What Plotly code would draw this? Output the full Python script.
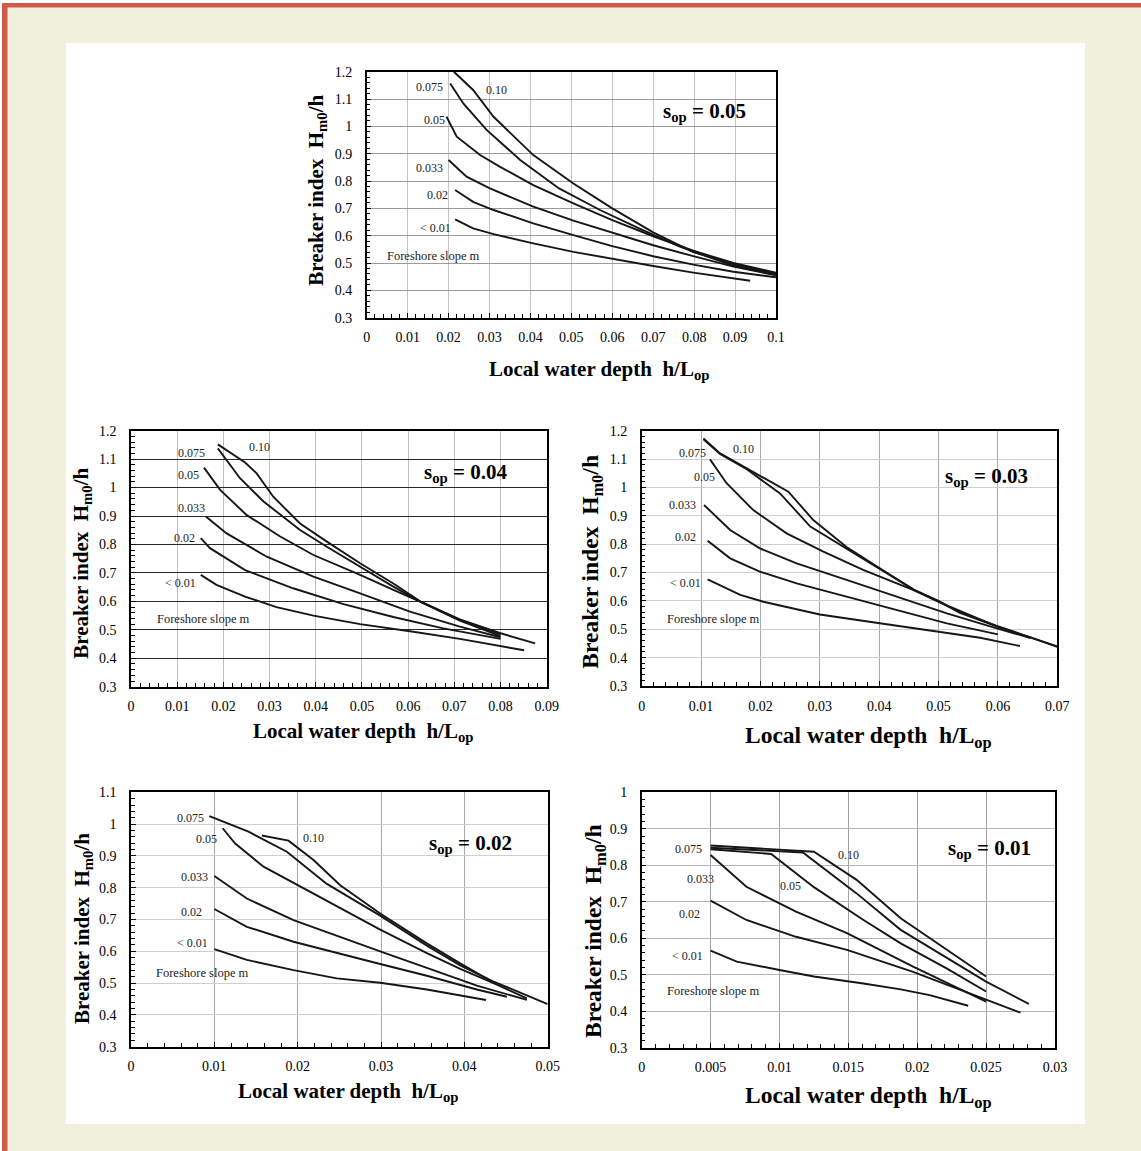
import plotly.graph_objects as go

# page is 1141 x 1151; the browser keeps its default 8px body margin,
# so the figure is 16px smaller and everything is placed relative to (8, 8).
PAGE_W, PAGE_H = 1141, 1151
OX, OY = 8, 8
W, H = PAGE_W - 2 * OX, PAGE_H - 2 * OY
FONT = "Liberation Serif, Times New Roman, serif"

# ---------------- data ----------------
slope_labels = ["0.10", "0.075", "0.05", "0.033", "0.02", "< 0.01"]

# s_op = 0.05
s005_m010_x = [0.0213, 0.026, 0.031, 0.0407, 0.0505, 0.060, 0.070, 0.0798, 0.0896, 0.100]
s005_m010_y = [1.200, 1.133, 1.035, 0.895, 0.791, 0.700, 0.612, 0.540, 0.495, 0.462]
s005_m0075_x = [0.0204, 0.0236, 0.0293, 0.0375, 0.047, 0.057, 0.0668, 0.0765, 0.0896, 0.100]
s005_m0075_y = [1.157, 1.084, 0.987, 0.877, 0.773, 0.694, 0.625, 0.560, 0.490, 0.458]
s005_m005_x = [0.0195, 0.022, 0.0277, 0.0326, 0.0407, 0.0505, 0.060, 0.070, 0.0798, 0.0896, 0.100]
s005_m005_y = [1.035, 0.962, 0.895, 0.852, 0.785, 0.718, 0.657, 0.598, 0.545, 0.500, 0.465]
s005_m0033_x = [0.020, 0.0244, 0.0301, 0.0407, 0.0505, 0.060, 0.070, 0.0798, 0.0896, 0.100]
s005_m0033_y = [0.877, 0.816, 0.773, 0.706, 0.655, 0.610, 0.565, 0.525, 0.487, 0.455]
s005_m002_x = [0.0216, 0.026, 0.031, 0.0407, 0.0505, 0.060, 0.070, 0.0798, 0.0896, 0.100]
s005_m002_y = [0.767, 0.724, 0.694, 0.645, 0.602, 0.562, 0.525, 0.494, 0.468, 0.448]
s005_m001_x = [0.0216, 0.026, 0.031, 0.0407, 0.0505, 0.060, 0.070, 0.0798, 0.0937]
s005_m001_y = [0.660, 0.627, 0.606, 0.572, 0.541, 0.515, 0.489, 0.465, 0.435]

# s_op = 0.04
s004_m010_x = [0.0188, 0.0247, 0.0272, 0.0308, 0.0366, 0.0424, 0.0496, 0.0568, 0.0626, 0.0712, 0.080, 0.0875]
s004_m010_y = [1.152, 1.088, 1.050, 0.968, 0.874, 0.810, 0.734, 0.663, 0.600, 0.537, 0.488, 0.452]
s004_m0075_x = [0.0188, 0.0207, 0.0236, 0.0287, 0.0366, 0.0424, 0.0496, 0.0568, 0.0626, 0.0712, 0.080]
s004_m0075_y = [1.138, 1.097, 1.033, 0.951, 0.851, 0.792, 0.722, 0.652, 0.599, 0.534, 0.484]
s004_m005_x = [0.0158, 0.0193, 0.025, 0.0323, 0.0395, 0.0496, 0.0568, 0.0626, 0.0712, 0.080]
s004_m005_y = [1.070, 0.992, 0.904, 0.828, 0.763, 0.693, 0.640, 0.599, 0.532, 0.478]
s004_m0033_x = [0.0162, 0.0207, 0.0294, 0.0395, 0.0496, 0.0604, 0.0712, 0.080]
s004_m0033_y = [0.898, 0.839, 0.757, 0.687, 0.628, 0.564, 0.511, 0.474]
s004_m002_x = [0.0151, 0.0171, 0.0247, 0.0351, 0.046, 0.0568, 0.0676, 0.080]
s004_m002_y = [0.822, 0.787, 0.710, 0.646, 0.590, 0.545, 0.505, 0.468]
s004_m001_x = [0.0151, 0.0185, 0.0247, 0.0315, 0.0395, 0.0496, 0.0604, 0.0712, 0.0851]
s004_m001_y = [0.693, 0.658, 0.617, 0.580, 0.550, 0.520, 0.495, 0.468, 0.428]

# s_op = 0.03
s003_m010_x = [0.0104, 0.0132, 0.0177, 0.0247, 0.0289, 0.0345, 0.0401, 0.0458, 0.0536, 0.0598, 0.0654, 0.070]
s003_m010_y = [1.173, 1.120, 1.067, 0.985, 0.885, 0.790, 0.715, 0.640, 0.560, 0.512, 0.472, 0.438]
s003_m0075_x = [0.0104, 0.0132, 0.0177, 0.0233, 0.0284, 0.0345, 0.0401, 0.0458, 0.050, 0.0536, 0.0598, 0.0654]
s003_m0075_y = [1.170, 1.118, 1.064, 0.979, 0.862, 0.785, 0.715, 0.640, 0.600, 0.558, 0.510, 0.470]
s003_m005_x = [0.0115, 0.0143, 0.0188, 0.0244, 0.0306, 0.0373, 0.0458, 0.050, 0.0598, 0.070]
s003_m005_y = [1.099, 1.015, 0.920, 0.838, 0.774, 0.709, 0.638, 0.597, 0.510, 0.440]
s003_m0033_x = [0.0105, 0.0149, 0.0199, 0.0261, 0.0345, 0.043, 0.0514, 0.0598, 0.0654]
s003_m0033_y = [0.938, 0.850, 0.785, 0.732, 0.674, 0.615, 0.556, 0.503, 0.470]
s003_m002_x = [0.0111, 0.0149, 0.0199, 0.0261, 0.0345, 0.043, 0.0514, 0.060]
s003_m002_y = [0.812, 0.750, 0.703, 0.662, 0.615, 0.568, 0.521, 0.482]
s003_m001_x = [0.0111, 0.0166, 0.0205, 0.030, 0.0401, 0.050, 0.057, 0.0637]
s003_m001_y = [0.676, 0.621, 0.597, 0.552, 0.521, 0.492, 0.470, 0.441]

# s_op = 0.02
s002_m010_x = [0.0157, 0.0189, 0.0219, 0.0251, 0.0299, 0.0355, 0.0395, 0.0438]
s002_m010_y = [0.964, 0.948, 0.887, 0.808, 0.719, 0.625, 0.562, 0.497]
s002_m0075_x = [0.0094, 0.0141, 0.0187, 0.0235, 0.0299, 0.0355, 0.0395, 0.0435, 0.050]
s002_m0075_y = [1.025, 0.976, 0.913, 0.812, 0.712, 0.618, 0.556, 0.505, 0.434]
s002_m005_x = [0.011, 0.0125, 0.0159, 0.0215, 0.0251, 0.0299, 0.0355, 0.0395, 0.0435, 0.0475]
s002_m005_y = [0.987, 0.939, 0.866, 0.787, 0.735, 0.668, 0.594, 0.545, 0.500, 0.452]
s002_m0033_x = [0.010, 0.0139, 0.0195, 0.0247, 0.0299, 0.0355, 0.0415, 0.0475]
s002_m0033_y = [0.837, 0.766, 0.698, 0.648, 0.600, 0.548, 0.492, 0.447]
s002_m002_x = [0.010, 0.0139, 0.0195, 0.0247, 0.0299, 0.0355, 0.0415, 0.0451]
s002_m002_y = [0.733, 0.677, 0.630, 0.594, 0.560, 0.523, 0.480, 0.457]
s002_m001_x = [0.010, 0.0139, 0.0195, 0.0247, 0.0299, 0.0355, 0.0426]
s002_m001_y = [0.607, 0.573, 0.541, 0.515, 0.501, 0.480, 0.447]

# s_op = 0.01
s001_m010_x = [0.005, 0.0125, 0.0156, 0.0188, 0.025]
s001_m010_y = [0.854, 0.837, 0.760, 0.655, 0.495]
s001_m0075_x = [0.005, 0.0117, 0.0156, 0.0188, 0.025, 0.0281]
s001_m0075_y = [0.848, 0.835, 0.723, 0.623, 0.481, 0.420]
s001_m005_x = [0.005, 0.0094, 0.0125, 0.0161, 0.0188, 0.0221, 0.025]
s001_m005_y = [0.844, 0.831, 0.740, 0.650, 0.586, 0.518, 0.454]
s001_m0033_x = [0.005, 0.0076, 0.0112, 0.0149, 0.0197, 0.025]
s001_m0033_y = [0.828, 0.741, 0.673, 0.614, 0.522, 0.426]
s001_m002_x = [0.005, 0.0076, 0.0112, 0.0149, 0.0197, 0.025, 0.0275]
s001_m002_y = [0.703, 0.650, 0.604, 0.568, 0.508, 0.431, 0.396]
s001_m001_x = [0.005, 0.0069, 0.010, 0.0125, 0.0161, 0.0188, 0.0209, 0.0237]
s001_m001_y = [0.566, 0.536, 0.513, 0.495, 0.476, 0.460, 0.444, 0.415]

# ---------------- layout helpers ----------------
def fx(px):
    return (px - OX) / W

def fy(py):
    return 1 - (py - OY) / H

BEIGE = "#F1F0DD"
RED = "#CF5A4A"

panels = [
    dict(sop="0.05", xmax=0.1, xd=0.01, ymax=1.2,
         box=(366.7, 71.7, 776.0, 317.7), hgrid="#9a9a9a", vgrid="#c4c4c4",
         ytitle=(316.7, 190), xtitle=(599, 370), tsize=21,
         curves=[(s005_m010_x, s005_m010_y), (s005_m0075_x, s005_m0075_y), (s005_m005_x, s005_m005_y),
                 (s005_m0033_x, s005_m0033_y), (s005_m002_x, s005_m002_y), (s005_m001_x, s005_m001_y)],
         lab=[(0.0318, 1.133, "center"), (0.0191, 1.145, "right"), (0.0195, 1.023, "right"),
              (0.0191, 0.846, "right"), (0.0204, 0.749, "right"), (0.0212, 0.627, "right")],
         fore=(0.0045, 0.527), sopxy=(0.072, 1.054)),
    dict(sop="0.04", xmax=0.09, xd=0.01, ymax=1.2,
         box=(131.0, 430.7, 546.7, 686.7), hgrid="#2a2a2a", vgrid="#bdbdbd",
         ytitle=(81.7, 563), xtitle=(363, 731.7), tsize=21,
         curves=[(s004_m010_x, s004_m010_y), (s004_m0075_x, s004_m0075_y), (s004_m005_x, s004_m005_y),
                 (s004_m0033_x, s004_m0033_y), (s004_m002_x, s004_m002_y), (s004_m001_x, s004_m001_y)],
         lab=[(0.0279, 1.142, "center"), (0.0164, 1.123, "right"), (0.0151, 1.044, "right"),
              (0.0165, 0.927, "right"), (0.0142, 0.822, "right"), (0.0146, 0.666, "right")],
         fore=(0.0052, 0.538), sopxy=(0.063, 1.05)),
    dict(sop="0.03", xmax=0.07, xd=0.01, ymax=1.2,
         box=(641.7, 430.7, 1057.3, 686.0), hgrid="#cfcfcf", vgrid="#a8a8a8",
         ytitle=(591.7, 562), xtitle=(868, 736.7), tsize=23.5,
         curves=[(s003_m010_x, s003_m010_y), (s003_m0075_x, s003_m0075_y), (s003_m005_x, s003_m005_y),
                 (s003_m0033_x, s003_m0033_y), (s003_m002_x, s003_m002_y), (s003_m001_x, s003_m001_y)],
         lab=[(0.0171, 1.134, "center"), (0.0111, 1.123, "right"), (0.0126, 1.036, "right"),
              (0.0094, 0.938, "right"), (0.0094, 0.824, "right"), (0.0103, 0.662, "right")],
         fore=(0.0039, 0.536), sopxy=(0.0507, 1.038)),
    dict(sop="0.02", xmax=0.05, xd=0.01, ymax=1.1,
         box=(131.0, 792.3, 547.7, 1046.7), hgrid="#cfcfcf", vgrid="#a8a8a8",
         ytitle=(83, 929), xtitle=(348, 1091.7), tsize=21,
         curves=[(s002_m010_x, s002_m010_y), (s002_m0075_x, s002_m0075_y), (s002_m005_x, s002_m005_y),
                 (s002_m0033_x, s002_m0033_y), (s002_m002_x, s002_m002_y), (s002_m001_x, s002_m001_y)],
         lab=[(0.0219, 0.955, "center"), (0.009, 1.018, "right"), (0.0105, 0.952, "right"),
              (0.0095, 0.835, "right"), (0.0088, 0.725, "right"), (0.0095, 0.627, "right")],
         fore=(0.0028, 0.531), sopxy=(0.0355, 0.939)),
    dict(sop="0.01", xmax=0.03, xd=0.005, ymax=1.0,
         box=(641.7, 792.3, 1055.0, 1047.7), hgrid="#b5b5b5", vgrid="#a0a0a8",
         ytitle=(595, 931), xtitle=(868, 1096.7), tsize=23.5,
         curves=[(s001_m010_x, s001_m010_y), (s001_m0075_x, s001_m0075_y), (s001_m005_x, s001_m005_y),
                 (s001_m0033_x, s001_m0033_y), (s001_m002_x, s001_m002_y), (s001_m001_x, s001_m001_y)],
         lab=[(0.015, 0.828, "center"), (0.0045, 0.844, "right"), (0.0108, 0.743, "center"),
              (0.0054, 0.763, "right"), (0.0044, 0.667, "right"), (0.0046, 0.551, "right")],
         fore=(0.0017, 0.456), sopxy=(0.0221, 0.844)),
]

fig = go.Figure()
annotations = []
layout = dict(
    template="none",
    width=W, height=H, margin=dict(l=0, r=0, t=0, b=0, pad=0, autoexpand=False),
    paper_bgcolor=BEIGE, plot_bgcolor="white", showlegend=False,
    hovermode=False, font=dict(family=FONT, color="black", size=14),
)

for i, p in enumerate(panels):
    n = "" if i == 0 else str(i + 1)
    xa, ya = "x" + n, "y" + n
    x0, y0, x1, y1 = p["box"]
    for cx, cy in p["curves"]:
        fig.add_trace(go.Scatter(x=cx, y=cy, mode="lines", xaxis=xa, yaxis=ya,
                                 line=dict(color="#161616", width=1.9), hoverinfo="skip"))
    common = dict(showline=True, linecolor="black", linewidth=1.5, mirror=True,
                  ticks="inside", ticklen=5, tickcolor="black", tickwidth=1,
                  showgrid=True, zeroline=False, fixedrange=True, automargin=False,
                  tickfont=dict(family=FONT, size=14, color="black"))
    layout["xaxis" + n] = dict(common, domain=[fx(x0), fx(x1)], range=[0, p["xmax"]],
                               tick0=0, dtick=p["xd"], anchor=ya, gridcolor=p["vgrid"], gridwidth=1,
                               ticklabelstandoff=6,
                               minor=dict(dtick=p["xd"] / 5, ticks="inside", ticklen=4,
                                          tickcolor="black", showgrid=False))
    layout["yaxis" + n] = dict(common, domain=[fy(y1), fy(y0)], range=[0.3, p["ymax"]],
                               tick0=0.3, dtick=0.1, anchor=xa, gridcolor=p["hgrid"], gridwidth=1,
                               ticklabelstandoff=10,
                               minor=dict(dtick=0.02, ticks="inside", ticklen=4,
                                          tickcolor="black", showgrid=False))
    for (lx, ly, anc), txt in zip(p["lab"], slope_labels):
        annotations.append(dict(x=lx, y=ly, xref=xa, yref=ya, text=txt.replace("<", "&lt;"),
                                showarrow=False, xanchor=anc, yanchor="middle",
                                font=dict(family=FONT, size=12, color="#222")))
    annotations.append(dict(x=p["fore"][0], y=p["fore"][1], xref=xa, yref=ya,
                            text="Foreshore slope m", showarrow=False, xanchor="left",
                            yanchor="middle", font=dict(family=FONT, size=12.5, color="#222")))
    annotations.append(dict(x=p["sopxy"][0], y=p["sopxy"][1], xref=xa, yref=ya,
                            text="<b>s<sub>op</sub> = " + p["sop"] + "</b>", showarrow=False,
                            xanchor="left", yanchor="middle",
                            font=dict(family=FONT, size=21, color="black")))
    annotations.append(dict(x=fx(p["ytitle"][0]), y=fy(p["ytitle"][1]), xref="paper", yref="paper",
                            text="<b>Breaker index  H<sub>m0</sub>/h</b>", textangle=-90,
                            showarrow=False, xanchor="center", yanchor="middle",
                            font=dict(family=FONT, size=p["tsize"], color="black")))
    annotations.append(dict(x=fx(p["xtitle"][0]), y=fy(p["xtitle"][1]), xref="paper", yref="paper",
                            text="<b>Local water depth  h/L<sub>op</sub></b>",
                            showarrow=False, xanchor="center", yanchor="middle",
                            font=dict(family=FONT, size=p["tsize"], color="black")))

shapes = [
    dict(type="rect", xref="paper", yref="paper", x0=fx(66), x1=fx(1085), y0=fy(1124), y1=fy(43),
         fillcolor="white", line=dict(width=0), layer="below"),
]
layout["annotations"] = annotations
layout["shapes"] = shapes
fig.update_layout(**layout)

# colour the 8px page margin like the reference frame (red rule top/left, beige elsewhere)
page_bg = ("document.body.style.background = "
           "'linear-gradient(%s,%s) 2px 3px / 100%% 4.5px no-repeat, "
           "linear-gradient(%s,%s) 2px 3px / 5.5px 100%% no-repeat, "
           "linear-gradient(%s,%s) 2px 3px / 100%% 100%% no-repeat, #ffffff';"
           % (RED, RED, RED, RED, BEIGE, BEIGE))

fig.write_html("out.html", config={"displayModeBar": False}, post_script=page_bg)
